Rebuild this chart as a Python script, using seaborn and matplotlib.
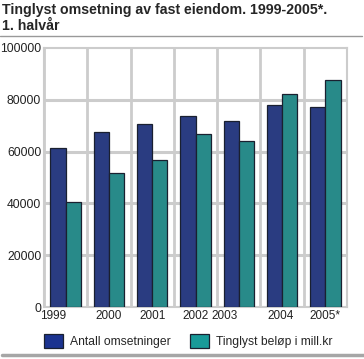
"""
Tinglyst omsetning av fast eiendom 1999-2005*, 1. halvår
"""

import pandas as pd
import matplotlib
matplotlib.use('Agg')
import matplotlib.pyplot as plt
import seaborn as sns
from matplotlib.lines import Line2D

# Data
years = ['1999', '2000', '2001', '2002', '2003', '2004', '2005*']
antall = [61500, 67600, 70800, 73900, 71700, 77900, 77400]
belop = [40600, 51800, 56600, 66700, 64000, 82400, 87600]
series_names = ['Antall omsetninger', 'Tinglyst beløp i mill.kr']
y_ticks = [0, 20000, 40000, 60000, 80000, 100000]

# tick label shifts (the original has some labels off-centre)
label_shift = [-0.29, 0, 0, 0, -0.32, -0.03, 0]

df = pd.DataFrame({
    'Aar': years * 2,
    'Verdi': antall + belop,
    'Serie': [series_names[0]] * len(years) + [series_names[1]] * len(years),
})

sns.set_style('white')
plt.rcParams['font.family'] = ['Liberation Sans', 'DejaVu Sans']

colors = ['#1b3390', '#189a99']
grid_c = '#cccccc'
n = len(years)

fig = plt.figure(figsize=(3.64, 3.59), dpi=100)
ax = fig.add_axes([44 / 364, 52 / 359, 303 / 364, 259 / 359])

sns.barplot(data=df, x='Aar', y='Verdi', hue='Serie', palette=colors,
            width=0.7, edgecolor='#1a2030', linewidth=0.9, ax=ax,
            legend=False, zorder=3)

# gridlines behind the bars
ax.hlines(y_ticks[1:-1], -0.5, n - 0.5, colors=grid_c, lw=2.2, zorder=1)
ax.vlines([i - 0.5 for i in range(n + 1)], 0, 100000, colors=grid_c, lw=2, zorder=1)

ax.set_ylim(0, 100000)
ax.set_xlim(-0.5, n - 0.5)
ax.set_yticks(y_ticks)
ax.set_yticklabels([str(v) for v in y_ticks], fontsize=8.7, color='#222222')
ax.set_xticks([i + s for i, s in enumerate(label_shift)])
ax.set_xticklabels(years, fontsize=8.5, color='#222222')
ax.tick_params(axis='both', which='both', length=0, pad=2)
ax.set_xlabel('')
ax.set_ylabel('')
for sp in ax.spines.values():
    sp.set_color(grid_c)
    sp.set_linewidth(1.5)

# title
fig.text(2 / 364, 1 - 3 / 359, 'Tinglyst omsetning av fast eiendom. 1999-2005*.\n1. halvår',
         fontsize=10.2, fontweight='bold', va='top', ha='left', linespacing=1.15)

# lines top and bottom
fig.add_artist(Line2D([0, 362 / 364], [1 - 35.5 / 359] * 2, color='#999999', lw=1.0,
                      transform=fig.transFigure))
fig.add_artist(Line2D([2 / 364, 1], [1 - 355 / 359] * 2, color='#a6a6a6', lw=2.5,
                      transform=fig.transFigure))

# legend
handles = [plt.Rectangle((0, 0), 1, 1, facecolor=c, edgecolor='#1a2030', lw=0.9)
           for c in colors]
fig.legend(handles, series_names, loc='center left', bbox_to_anchor=(44 / 364, 1 - 341 / 359),
           ncol=2, frameon=False, fontsize=8.7, handlelength=1.55, handleheight=1.45,
           handletextpad=0.6, columnspacing=1.6, borderaxespad=0, borderpad=0)

plt.savefig('out.png', dpi=100)
plt.close()
